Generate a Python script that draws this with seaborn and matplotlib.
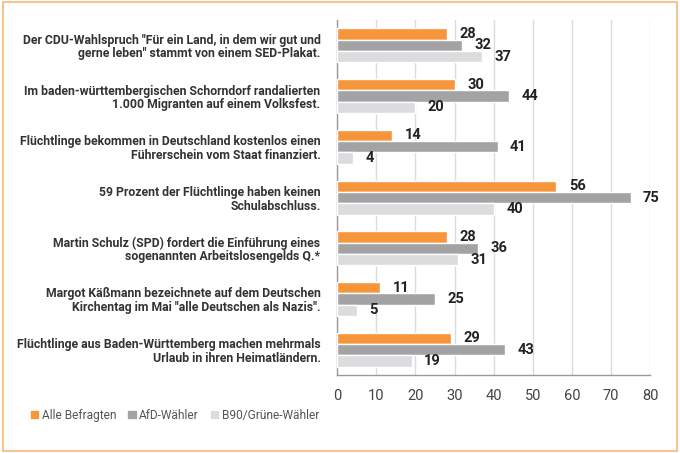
import matplotlib
matplotlib.use("Agg")
import matplotlib.pyplot as plt
from matplotlib.patches import Rectangle
import seaborn as sns
import pandas as pd

statements = [
    'Der CDU-Wahlspruch "Für ein Land, in dem wir gut und\ngerne leben" stammt von einem SED-Plakat.',
    'Im baden-württembergischen Schorndorf randalierten\n1.000 Migranten auf einem Volksfest.',
    'Flüchtlinge bekommen in Deutschland kostenlos einen\nFührerschein vom Staat finanziert.',
    '59 Prozent der Flüchtlinge haben keinen\nSchulabschluss.',
    'Martin Schulz (SPD) fordert die Einführung eines\nsogenannten Arbeitslosengelds Q.*',
    'Margot Käßmann bezeichnete auf dem Deutschen\nKirchentag im Mai "alle Deutschen als Nazis".',
    'Flüchtlinge aus Baden-Württemberg machen mehrmals\nUrlaub in ihren Heimatländern.',
]
groups = ["Alle Befragten", "AfD-Wähler", "B90/Grüne-Wähler"]
alle = [28, 30, 14, 56, 28, 11, 29]
afd = [32, 44, 41, 75, 36, 25, 43]
gruene = [37, 20, 4, 40, 31, 5, 19]
xticks = [0, 10, 20, 30, 40, 50, 60, 70, 80]

colors = ["#f7953b", "#a3a3a5", "#dcdcde"]

df = pd.DataFrame({
    "Aussage": statements * 3,
    "Gruppe": [g for g in groups for _ in statements],
    "Prozent": alle + afd + gruene,
})

sns.set_style("white")
plt.rcParams["font.family"] = ["Roboto", "DejaVu Sans"]

fig, ax = plt.subplots(figsize=(6.8, 4.53), dpi=100)
fig.subplots_adjust(left=0.496, right=0.956, top=0.956, bottom=0.172)

sns.barplot(data=df, y="Aussage", x="Prozent", hue="Gruppe", palette=colors,
            orient="h", width=0.67, saturation=1, ax=ax, legend=False, zorder=3)

for cont in ax.containers:
    ax.bar_label(cont, padding=9, fontsize=10.5, fontweight="bold", color="#222222")

ax.set_xlim(0, 80)
ax.set_ylim(len(statements) - 0.5, -0.5)
ax.set_xticks(xticks)
ax.set_xlabel("")
ax.set_ylabel("")
ax.xaxis.grid(True, color="#dadae0", lw=1, zorder=0)
ax.yaxis.grid(False)

ax.set_yticks(range(len(statements)))
ax.set_yticklabels(statements, fontsize=8.8, fontweight="bold", color="#333333",
                   linespacing=1.05)
ax.set_yticks([i - 0.5 for i in range(len(statements) + 1)], minor=True)
ax.tick_params(axis="y", which="major", length=0, pad=12)
ax.tick_params(axis="y", which="minor", length=4, color="#999999", width=1)
ax.tick_params(axis="x", length=4, color="#999999", labelsize=10.5,
               labelcolor="#444444", pad=6)

for s in ["top", "right"]:
    ax.spines[s].set_visible(False)
for s in ["left", "bottom"]:
    ax.spines[s].set_color("#999999")
    ax.spines[s].set_linewidth(1)

handles = [Rectangle((0, 0), 1, 1, color=c) for c in colors]
fig.legend(handles, groups, loc="lower left", bbox_to_anchor=(0.03, 0.045),
           ncol=3, frameon=False, fontsize=8.6, labelcolor="#555555",
           handlelength=0.6, handleheight=0.6, handletextpad=0.3,
           columnspacing=1.0)

fig.patches.append(Rectangle((0.004, 0.005), 0.992, 0.99, transform=fig.transFigure,
                             fill=False, edgecolor="#f6c592", lw=1.5))

fig.savefig("out.png", dpi=100)
